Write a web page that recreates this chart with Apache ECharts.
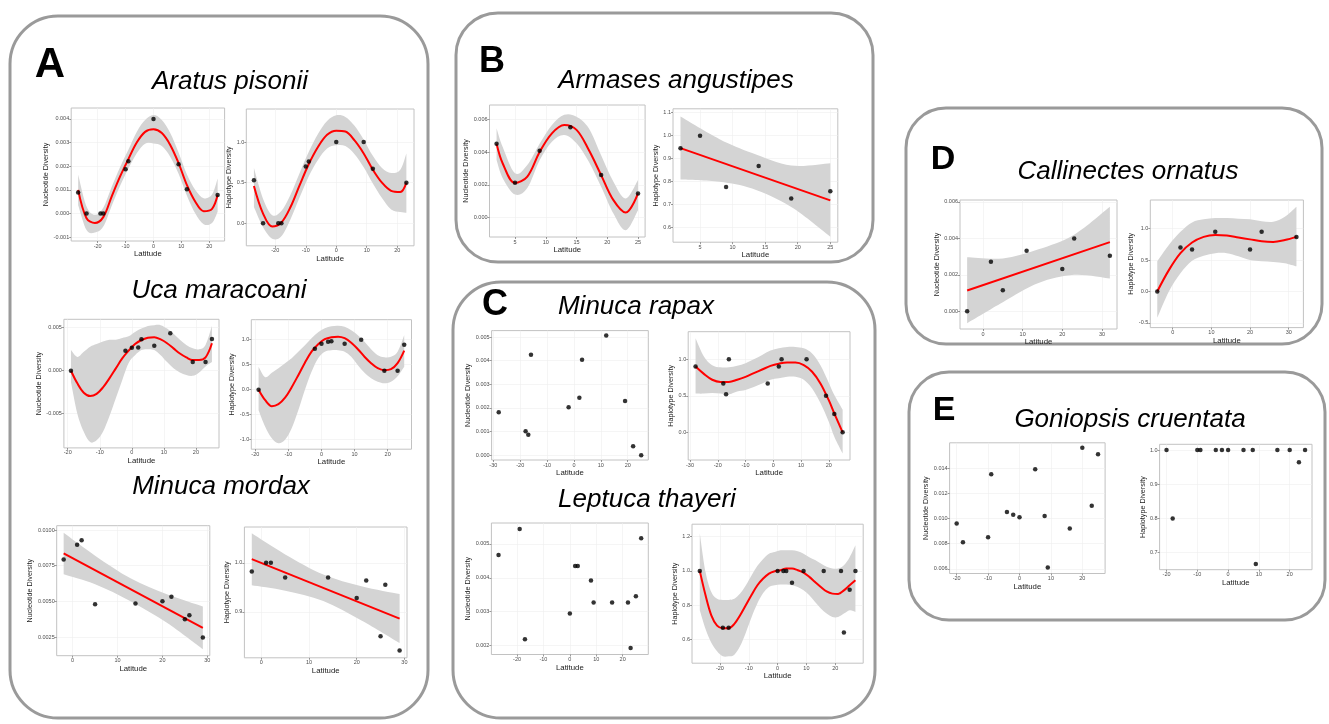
<!DOCTYPE html>
<html>
<head>
<meta charset="utf-8">
<script src="https://cdn.jsdelivr.net/npm/echarts@6/dist/echarts.min.js"></script>
<style>
html,body{margin:0;padding:0;background:#ffffff;}
#chart{width:1329px;height:724px;}
</style>
</head>
<body>
<div id="chart"></div>
<script>
// ================= DATA =================
// ---- A: Aratus pisonii ----
const aratusLat = [-27,-24,-19,-18,-10,-9,0,9,12,23];
const aratusNuc = [0.00089,0,0,0,0.00187,0.00221,0.004,0.00208,0.00103,0.00078];
const aratusHap = [0.53,0,0,0,0.70,0.76,1.0,1.0,0.67,0.5];
const aratusFitLat = [-27,-24,-21,-18,-15,-12,-9,-6,-3,0,3,6,9,12,15,18,21,23];
const aratusNucFit = [0.00100,-0.0002,-0.0004,-0.00015,0.00072,0.00156,0.0023,0.0030,0.00345,0.00356,0.0034,0.0029,0.00213,0.0012,0.0005,0.0001,0.0002,0.00078];
const aratusNucLo  = [0.00035,-0.0007,-0.0008,-0.00055,0.00032,0.00116,0.0019,0.00255,0.00295,0.00296,0.00285,0.0024,0.00168,0.00075,0.0,-0.00045,-0.0004,0.00008];
const aratusNucHi  = [0.00165,0.0003,-0.00005,0.00025,0.00112,0.00196,0.0027,0.00345,0.00395,0.00416,0.00395,0.0034,0.00258,0.00165,0.001,0.00065,0.0008,0.00148];
const aratusHapFit = [0.46,0.12,-0.04,0.01,0.20,0.47,0.73,0.94,1.09,1.14,1.13,1.02,0.86,0.66,0.5,0.40,0.385,0.5];
const aratusHapLo  = [0.2,-0.05,-0.19,-0.16,0.05,0.32,0.58,0.78,0.92,0.96,0.95,0.85,0.69,0.49,0.31,0.17,0.14,0.13];
const aratusHapHi  = [0.68,0.3,0.1,0.15,0.35,0.62,0.88,1.1,1.26,1.33,1.31,1.2,1.03,0.83,0.68,0.62,0.66,0.86];

// ---- A: Uca maracoani ----
const ucaLat = [-19,-2,0,2,3,7,12,19,23,25];
const ucaNuc = [0,0.00233,0.00267,0.0027,0.00365,0.0029,0.00435,0.001,0.001,0.00368];
const ucaHap = [0,0.82,0.92,0.96,0.97,0.92,1.0,0.38,0.38,0.9];
const ucaFitLat = [-19,-17,-15,-13,-11,-9,-7,-5,-3,-1,1,3,5,7,9,11,13,15,17,19,21,23,25];
const ucaNucFit = [0,-0.00147,-0.00256,-0.00295,-0.0027,-0.00194,-0.00089,0.00027,0.00143,0.00233,0.0031,0.00357,0.00384,0.0039,0.00364,0.0032,0.0026,0.002,0.00155,0.00124,0.00124,0.00155,0.0032];
const ucaNucLo  = [-0.0013,-0.005,-0.0071,-0.0083,-0.0081,-0.0071,-0.0053,-0.0032,-0.0011,0.0009,0.0018,0.0024,0.0025,0.0024,0.0018,0.001,0.0003,-0.0002,-0.0005,-0.0006,-0.0002,0.0005,0.001];
const ucaNucHi  = [0.0024,0.0016,0.0022,0.0028,0.0031,0.0034,0.0036,0.0036,0.0038,0.004,0.0045,0.0049,0.0052,0.0053,0.0053,0.0049,0.0043,0.0036,0.003,0.0026,0.0025,0.003,0.0052];
const ucaHapFit = [0,-0.21,-0.33,-0.29,-0.16,0.05,0.29,0.54,0.76,0.91,1.01,1.05,1.06,1.03,0.94,0.81,0.66,0.53,0.43,0.39,0.41,0.53,0.78];
const ucaHapLo  = [-0.41,-0.74,-0.97,-1.07,-1.0,-0.77,-0.41,0.0,0.36,0.63,0.76,0.79,0.79,0.76,0.66,0.49,0.34,0.23,0.16,0.13,0.16,0.27,0.46];
const ucaHapHi  = [0.46,0.25,0.34,0.43,0.53,0.63,0.76,0.89,1.03,1.15,1.23,1.27,1.28,1.26,1.19,1.09,0.96,0.81,0.69,0.65,0.66,0.76,1.09];

// ---- A: Minuca mordax ----
const mordaxLat = [-2,1,2,5,14,20,22,25,26,29];
const mordaxNuc = [0.00794,0.00897,0.00928,0.00481,0.00486,0.00502,0.00533,0.00376,0.00404,0.00248];
const mordaxHap = [0.982,1.0,1.0,0.97,0.97,0.928,0.964,0.85,0.955,0.821];
const mordaxFitLat = [-2,29];
const mordaxNucFit = [0.00836,0.00315];
const mordaxHapFit = [1.0075,0.886];
const mordaxBandLat = [-2,5,13,21,29];
const mordaxNucLo = [0.0069,0.0062,0.0050,0.0035,0.00165];
const mordaxNucHi = [0.0098,0.0082,0.0066,0.0055,0.00465];
const mordaxHapLo = [0.954,0.943,0.922,0.882,0.836];
const mordaxHapHi = [1.06,1.017,0.976,0.952,0.936];

// ---- B: Armases angustipes ----
const armasesLat = [2,5,9,14,19,25];
const armasesNuc = [0.00451,0.00212,0.00408,0.00551,0.00259,0.00147];
const armasesHap = [0.946,1.0,0.777,0.868,0.727,0.758];
const armasesNucFitLat = [2,3,5,7,9,11,13,15,17,19,21,23,25];
const armasesNucFit = [0.0045,0.0033,0.0021,0.0025,0.004,0.00514,0.00565,0.00535,0.00412,0.00259,0.00106,0.0003,0.00147];
const armasesNucLo  = [0.00351,0.0024,0.0014,0.0018,0.0035,0.00463,0.00504,0.00453,0.0034,0.00188,0.00024,-0.00078,0.00045];
const armasesNucHi  = [0.00545,0.0043,0.0027,0.0032,0.0045,0.00565,0.00627,0.00616,0.00545,0.0038,0.00218,0.00116,0.00229];
const armasesHapFitLat = [2,25];
const armasesHapFit = [0.946,0.719];
const armasesHapBandLat = [2,8,13,19,25];
const armasesHapLo = [0.81,0.80,0.77,0.69,0.561];
const armasesHapHi = [1.083,0.985,0.925,0.87,0.88];

// ---- C: Minuca rapax ----
const rapaxLat = [-28,-18,-17,-16,-2,2,3,12,19,22,25];
const rapaxNuc = [0.00182,0.00102,0.00087,0.00425,0.00203,0.00243,0.00404,0.00506,0.00229,0.00038,0.0];
const rapaxHap = [0.9,0.667,0.52,1.0,0.667,0.9,1.0,1.0,0.5,0.25,0.0];
const rapaxFitLat = [-28,-25,-22,-19,-16,-13,-10,-7,-4,-1,2,5,8,11,14,17,20,22,25];
const rapaxHapFit = [0.9,0.8,0.72,0.69,0.69,0.72,0.76,0.81,0.86,0.91,0.94,0.955,0.955,0.92,0.83,0.67,0.44,0.26,0.0];
const rapaxHapLo  = [0.53,0.53,0.54,0.53,0.52,0.56,0.58,0.62,0.67,0.72,0.74,0.76,0.76,0.72,0.6,0.4,0.145,-0.06,-0.29];
const rapaxHapHi  = [1.29,1.04,0.92,0.89,0.89,0.91,0.945,1.0,1.06,1.12,1.15,1.17,1.17,1.15,1.08,0.92,0.68,0.51,0.31];

// ---- C: Leptuca thayeri ----
const thayeriNucLat = [-27,-19,-17,0,2,3,8,9,16,22,23,25,27];
const thayeriNuc = [0.00467,0.00544,0.00218,0.00294,0.00435,0.00435,0.00392,0.00327,0.00327,0.00327,0.00192,0.00345,0.00517];
const thayeriHapLat = [-27,-19,-17,0,2,3,5,9,16,22,23,25,27];
const thayeriHap = [1.0,0.667,0.667,1.0,1.0,1.0,0.93,1.0,1.0,1.0,0.64,0.89,1.0];
const thayeriFitLat = [-27,-25,-23,-21,-19,-17,-15,-13,-11,-9,-7,-5,-3,-1,1,3,5,7,9,11,13,15,17,19,21,23,25,27];
const thayeriHapFit = [1.0,0.857,0.74,0.68,0.665,0.665,0.69,0.74,0.8,0.86,0.916,0.955,0.984,0.998,1.004,1.014,1.014,1.004,0.99,0.965,0.935,0.906,0.88,0.867,0.865,0.886,0.916,0.945];
const thayeriHapLo  = [0.77,0.66,0.58,0.53,0.5,0.5,0.51,0.56,0.64,0.73,0.81,0.87,0.906,0.916,0.92,0.92,0.916,0.906,0.886,0.857,0.818,0.78,0.75,0.73,0.73,0.75,0.77,0.76];
const thayeriHapHi  = [1.22,0.994,0.876,0.837,0.83,0.83,0.837,0.867,0.916,0.975,1.03,1.07,1.1,1.11,1.12,1.12,1.12,1.115,1.1,1.08,1.063,1.043,1.024,1.014,1.014,1.033,1.08,1.15];

// ---- D: Callinectes ornatus ----
const ornatusLat = [-4,2,5,11,20,23,32];
const ornatusNuc = [0,0.00272,0.00116,0.00332,0.00232,0.00399,0.00305];
const ornatusHap = [0,0.7,0.667,0.95,0.667,0.95,0.867];
const ornatusNucFitLat = [-4,32];
const ornatusNucFit = [0.00114,0.00379];
const ornatusNucBandLat = [-4,5,14,23,32];
const ornatusNucLo = [-0.00065,0.0005,0.00155,0.002,0.0018];
const ornatusNucHi = [0.00296,0.0029,0.0034,0.0042,0.00573];
const ornatusHapFitLat = [-4,-1,2,5,8,11,14,17,20,23,26,29,32];
const ornatusHapFit = [0,0.34,0.61,0.78,0.87,0.9,0.89,0.86,0.83,0.8,0.79,0.82,0.87];
const ornatusHapLo  = [-0.42,0.0,0.29,0.49,0.57,0.61,0.61,0.56,0.5,0.48,0.47,0.45,0.4];
const ornatusHapHi  = [0.48,0.74,0.95,1.1,1.15,1.17,1.17,1.16,1.15,1.12,1.11,1.19,1.35];

// ---- E: Goniopsis cruentata ----
const cruentataLat = [-20,-18,-10,-9,-4,-2,0,5,8,9,16,20,23,25];
const cruentataNuc = [0.0096,0.0081,0.0085,0.0135,0.0105,0.0103,0.0101,0.0139,0.0102,0.0061,0.0092,0.0156,0.011,0.0151];
const cruentataHap = [1.0,0.8,1.0,1.0,1.0,1.0,1.0,1.0,1.0,0.667,1.0,1.0,0.964,1.0];

// ---- tick values ----
const latTicks20 = [-20,-10,0,10,20];
const latTicks30 = [-30,-20,-10,0,10,20];
const latTicks0to30 = [0,10,20,30];
const latTicks5 = [5,10,15,20,25];

// ================= LAYOUT =================
const NUC = 'Nucleotide Diversity', HAP = 'Haplotype Diversity';
const PANELS = [
 {box:[71.2,108,153.4,133], x:[-29.5,25.5], y:[-0.00116,0.00446], xt:latTicks20, yt:[-0.001,0,0.001,0.002,0.003,0.004], dec:3, yName:NUC, gap:19,
  lat:aratusLat, val:aratusNuc, fitLat:aratusFitLat, fit:aratusNucFit, bandLat:aratusFitLat, lo:aratusNucLo, hi:aratusNucHi},
 {box:[246.3,109,167.7,136.8], x:[-29.5,25.5], y:[-0.277,1.407], xt:latTicks20, yt:[0,0.5,1.0], dec:1, yName:HAP, gap:11.5,
  lat:aratusLat, val:aratusHap, fitLat:aratusFitLat, fit:aratusHapFit, bandLat:aratusFitLat, lo:aratusHapLo, hi:aratusHapHi},
 {box:[63.9,319.3,155.1,128.6], x:[-21.2,27.2], y:[-0.00898,0.00598], xt:latTicks20, yt:[-0.005,0,0.005], dec:3, yName:NUC, gap:19,
  lat:ucaLat, val:ucaNuc, fitLat:ucaFitLat, fit:ucaNucFit, bandLat:ucaFitLat, lo:ucaNucLo, hi:ucaNucHi},
 {box:[251.3,319.7,160.2,129.5], x:[-21.2,27.2], y:[-1.19,1.40], xt:latTicks20, yt:[-1.0,-0.5,0,0.5,1.0], dec:1, yName:HAP, gap:14,
  lat:ucaLat, val:ucaHap, fitLat:ucaFitLat, fit:ucaHapFit, bandLat:ucaFitLat, lo:ucaHapLo, hi:ucaHapHi},
 {box:[56.7,525.7,153.1,130], x:[-3.55,30.55], y:[0.0012,0.0103], xt:latTicks0to30, yt:[0.0025,0.005,0.0075,0.01], dec:4, yName:NUC, gap:21,
  lat:mordaxLat, val:mordaxNuc, fitLat:mordaxFitLat, fit:mordaxNucFit, bandLat:mordaxBandLat, lo:mordaxNucLo, hi:mordaxNucHi},
 {box:[244.4,527,162.6,130.8], x:[-3.55,30.55], y:[0.806,1.073], xt:latTicks0to30, yt:[0.9,1.0], dec:1, yName:HAP, gap:12,
  lat:mordaxLat, val:mordaxHap, fitLat:mordaxFitLat, fit:mordaxHapFit, bandLat:mordaxBandLat, lo:mordaxHapLo, hi:mordaxHapHi},
 {box:[489.5,105,155.6,132], x:[0.85,26.15], y:[-0.00119,0.00687], xt:latTicks5, yt:[0,0.002,0.004,0.006], dec:3, yName:NUC, gap:18.5,
  lat:armasesLat, val:armasesNuc, fitLat:armasesNucFitLat, fit:armasesNucFit, bandLat:armasesNucFitLat, lo:armasesNucLo, hi:armasesNucHi},
 {box:[673,108.8,164.8,133.4], x:[0.85,26.15], y:[0.537,1.117], xt:latTicks5, yt:[0.6,0.7,0.8,0.9,1.0,1.1], dec:1, yName:HAP, gap:12,
  lat:armasesLat, val:armasesHap, fitLat:armasesHapFitLat, fit:armasesHapFit, bandLat:armasesHapBandLat, lo:armasesHapLo, hi:armasesHapHi},
 {box:[491.6,330.6,156.7,129.4], x:[-30.65,27.65], y:[-0.0002,0.00527], xt:latTicks30, yt:[0,0.001,0.002,0.003,0.004,0.005], dec:3, yName:NUC, gap:18.5,
  lat:rapaxLat, val:rapaxNuc},
 {box:[688.2,331.7,161.8,128.3], x:[-30.65,27.65], y:[-0.379,1.378], xt:latTicks30, yt:[0,0.5,1.0], dec:1, yName:HAP, gap:12,
  lat:rapaxLat, val:rapaxHap, fitLat:rapaxFitLat, fit:rapaxHapFit, bandLat:rapaxFitLat, lo:rapaxHapLo, hi:rapaxHapHi},
 {box:[491.4,523,156.9,131.5], x:[-29.7,29.7], y:[0.00173,0.00562], xt:latTicks20, yt:[0.002,0.003,0.004,0.005], dec:3, yName:NUC, gap:18.5,
  lat:thayeriNucLat, val:thayeriNuc},
 {box:[692,524.2,171.2,139], x:[-29.7,29.7], y:[0.46,1.273], xt:latTicks20, yt:[0.6,0.8,1.0,1.2], dec:1, yName:HAP, gap:12,
  lat:thayeriHapLat, val:thayeriHap, fitLat:thayeriFitLat, fit:thayeriHapFit, bandLat:thayeriFitLat, lo:thayeriHapLo, hi:thayeriHapHi},
 {box:[960,200,157,129], x:[-5.8,33.8], y:[-0.00097,0.0061], xt:latTicks0to30, yt:[0,0.002,0.004,0.006], dec:3, yName:NUC, gap:18.5,
  lat:ornatusLat, val:ornatusNuc, fitLat:ornatusNucFitLat, fit:ornatusNucFit, bandLat:ornatusNucBandLat, lo:ornatusNucLo, hi:ornatusNucHi},
 {box:[1150.3,200,153.1,127.6], x:[-5.8,33.8], y:[-0.575,1.457], xt:latTicks0to30, yt:[-0.5,0,0.5,1.0], dec:1, yName:HAP, gap:14,
  lat:ornatusLat, val:ornatusHap, fitLat:ornatusHapFitLat, fit:ornatusHapFit, bandLat:ornatusHapFitLat, lo:ornatusHapLo, hi:ornatusHapHi},
 {box:[949.6,442.8,155.5,130.7], x:[-22.25,27.25], y:[0.00563,0.016], xt:latTicks20, yt:[0.006,0.008,0.010,0.012,0.014], dec:3, yName:NUC, gap:18.5,
  lat:cruentataLat, val:cruentataNuc},
 {box:[1159.6,444.3,152.4,125.4], x:[-22.25,27.25], y:[0.65,1.0167], xt:latTicks20, yt:[0.7,0.8,0.9,1.0], dec:1, yName:HAP, gap:12,
  lat:cruentataLat, val:cruentataHap}
];

const BOXES = [
 [10,16,418,702,48],
 [456,13,417,249,42],
 [453,282,422,436,48],
 [906,108,416,236,40],
 [909,372,416,248,40]
];
const LETTERS = [['A',50,65,42],['B',492,62,36],['C',495,305,36],['D',943,160,34],['E',944,411,34]];
const TITLES = [
 ['Aratus pisonii',230,82],['Uca maracoani',219,291],['Minuca mordax',221,487],
 ['Armases angustipes',676,81],['Minuca rapax',636,307],['Leptuca thayeri',647,500],
 ['Callinectes ornatus',1128,172],['Goniopsis cruentata',1130,420]
];

// ================= BUILD =================
const FONT = '"Liberation Sans", Arial, Helvetica, sans-serif';

function splineSegs(pts){
  let d = '';
  for (let k = 0; k < pts.length - 1; k++) {
    const p0 = pts[Math.max(k-1,0)], p1 = pts[k], p2 = pts[k+1], p3 = pts[Math.min(k+2, pts.length-1)];
    const c1x = p1[0] + (p2[0]-p0[0])/6, c1y = p1[1] + (p2[1]-p0[1])/6;
    const c2x = p2[0] - (p3[0]-p1[0])/6, c2y = p2[1] - (p3[1]-p1[1])/6;
    d += ' C' + c1x + ',' + c1y + ' ' + c2x + ',' + c2y + ' ' + p2[0] + ',' + p2[1];
  }
  return d;
}

const grid = [], xAxis = [], yAxis = [], series = [];
PANELS.forEach((p, i) => {
  grid.push({left:p.box[0], top:p.box[1], width:p.box[2], height:p.box[3], show:true,
    backgroundColor:'#ffffff', borderColor:'#c2c2c2', borderWidth:1});
  xAxis.push({type:'value', gridIndex:i, min:p.x[0], max:p.x[1],
    name:'Latitude', nameLocation:'middle', nameGap:7,
    nameTextStyle:{fontSize:7.8, color:'#1a1a1a', fontFamily:FONT},
    axisLine:{show:false, onZero:false},
    axisTick:{show:true, length:2, customValues:p.xt, lineStyle:{color:'#555', width:0.6}},
    axisLabel:{customValues:p.xt, fontSize:5.5, color:'#4d4d4d', margin:2, fontFamily:FONT, formatter:v => String(v)},
    splitLine:{show:true, lineStyle:{color:'#eeeeee', width:0.6}}});
  yAxis.push({type:'value', gridIndex:i, min:p.y[0], max:p.y[1],
    name:p.yName, nameLocation:'middle', nameGap:p.gap,
    nameTextStyle:{fontSize:7.2, color:'#1a1a1a', fontFamily:FONT},
    axisLine:{show:false, onZero:false},
    axisTick:{show:true, length:2, customValues:p.yt, lineStyle:{color:'#555', width:0.6}},
    axisLabel:{customValues:p.yt, fontSize:5.5, color:'#4d4d4d', margin:2, fontFamily:FONT, formatter:v => Number(v).toFixed(p.dec)},
    splitLine:{show:true, lineStyle:{color:'#eeeeee', width:0.6}}});
  if (p.lo) {
    const bx = p.bandLat, lo = p.lo, hi = p.hi;
    series.push({type:'custom', coordinateSystem:'cartesian2d', xAxisIndex:i, yAxisIndex:i, silent:true, z:1,
      data:[[bx[0], lo[0]]],
      renderItem:(params, api) => {
        const up = bx.map((x,k) => api.coord([x, hi[k]]));
        const dn = bx.map((x,k) => api.coord([x, lo[k]])).reverse();
        const d = 'M' + up[0][0] + ',' + up[0][1] + splineSegs(up) +
                  ' L' + dn[0][0] + ',' + dn[0][1] + splineSegs(dn) + ' Z';
        return {type:'path', shape:{pathData:d}, style:{fill:'#d4d4d4', stroke:null}};
      }});
  }
  if (p.fit) {
    series.push({type:'line', xAxisIndex:i, yAxisIndex:i, silent:true, z:3,
      data:p.fitLat.map((x,k) => [x, p.fit[k]]), smooth:0.35, symbol:'none',
      lineStyle:{color:'#ff0000', width:2}});
  }
  series.push({type:'scatter', xAxisIndex:i, yAxisIndex:i, silent:true, z:4,
    data:p.lat.map((x,k) => [x, p.val[k]]), symbolSize:4.5, itemStyle:{color:'#000000'}});
});

const graphic = [];
BOXES.forEach(b => graphic.push({type:'rect', silent:true, z:0,
  shape:{x:b[0], y:b[1], width:b[2], height:b[3], r:b[4]},
  style:{fill:'none', stroke:'#9a9a9a', lineWidth:3}}));
LETTERS.forEach(l => graphic.push({type:'text', silent:true, x:l[1], y:l[2],
  style:{text:l[0], fontSize:l[3], fontWeight:'bold', fontFamily:FONT, fill:'#000', align:'center', verticalAlign:'middle'}}));
TITLES.forEach(t => graphic.push({type:'text', silent:true, x:t[1], y:t[2],
  style:{text:t[0], fontSize:26, fontStyle:'italic', fontFamily:FONT, fill:'#000', align:'center', verticalAlign:'middle'}}));

const chart = echarts.init(document.getElementById('chart'), null, {renderer:'canvas'});
chart.setOption({
  animation:false,
  backgroundColor:'#ffffff',
  grid, xAxis, yAxis, series, graphic
});
</script>
</body>
</html>
